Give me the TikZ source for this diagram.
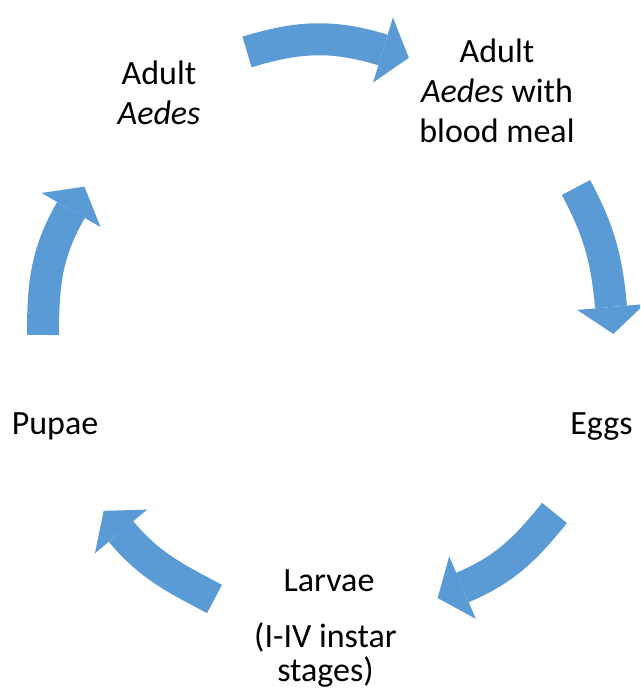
\documentclass[tikz,border=0pt]{standalone}
\usepackage{fontspec}
\setmainfont{Carlito}
\usetikzlibrary{calc}
\definecolor{cycblue}{HTML}{5B9BD5}
\begin{document}
\begin{tikzpicture}[x=1pt,y=1pt,
  lbl/.style={align=center, anchor=base, inner sep=0pt, text=black, font=\fontsize{34}{40}\selectfont},
  body/.style={draw=cycblue, line width=32pt, line cap=butt},
  headtri/.style={fill=cycblue}]
\useasboundingbox (0,0) rectangle (640,693);
\clip (0,0) rectangle (640,693);
% labels (anchor = baseline of last line)
\node[lbl] (adult) at (159,568) {Adult\\\textit{Aedes}};
\node[lbl] (blood) at (497,550) {Adult\\\textit{Aedes} with\\blood meal};
\node[lbl] (eggs) at (601.5,258) {Eggs};
\node[lbl] (larvae) at (329,101) {Larvae};
\node[lbl, font=\fontsize{34}{34}\selectfont] (instar) at (325.5,12) {(I-IV instar\\stages)};
\node[lbl] (pupae) at (55,258) {Pupae};
% arrow anchor points: tail, head base
\coordinate (t1) at (247,641);   \coordinate (b1) at (383,643);
\coordinate (t2) at (576,505.5); \coordinate (b2) at (611,386);
\coordinate (t3) at (554.5,180); \coordinate (b3) at (462.5,105.5);
\coordinate (t4) at (214.5,94);  \coordinate (b4) at (121,161.5);
\coordinate (t5) at (43,358);    \coordinate (b5) at (71,483);
% arrow bodies
\draw[body] (t1) to[out=17,in=163] (b1);
\draw[body] (t2) to[out=-62,in=95] (b2);
\draw[body] (t3) to[out=-129,in=23] (b3);
\draw[body] (t4) to[out=152,in=-50] (b4);
\draw[body] (t5) to[out=90,in=240] (b5);
% arrow heads
\fill[headtri] ($(b1)+(73:34)$) -- ($(b1)+(-17:27)$) -- ($(b1)+(-107:34)$) -- cycle;
\fill[headtri] ($(b2)+(5:34)$) -- ($(b2)+(-85:27)$) -- ($(b2)+(-175:34)$) -- cycle;
\fill[headtri] ($(b3)+(-67:34)$) -- ($(b3)+(-157:27)$) -- ($(b3)+(113:34)$) -- cycle;
\fill[headtri] ($(b4)+(220:34)$) -- ($(b4)+(130:27)$) -- ($(b4)+(40:34)$) -- cycle;
\fill[headtri] ($(b5)+(150:34)$) -- ($(b5)+(60:27)$) -- ($(b5)+(-30:34)$) -- cycle;
\end{tikzpicture}
\end{document}
